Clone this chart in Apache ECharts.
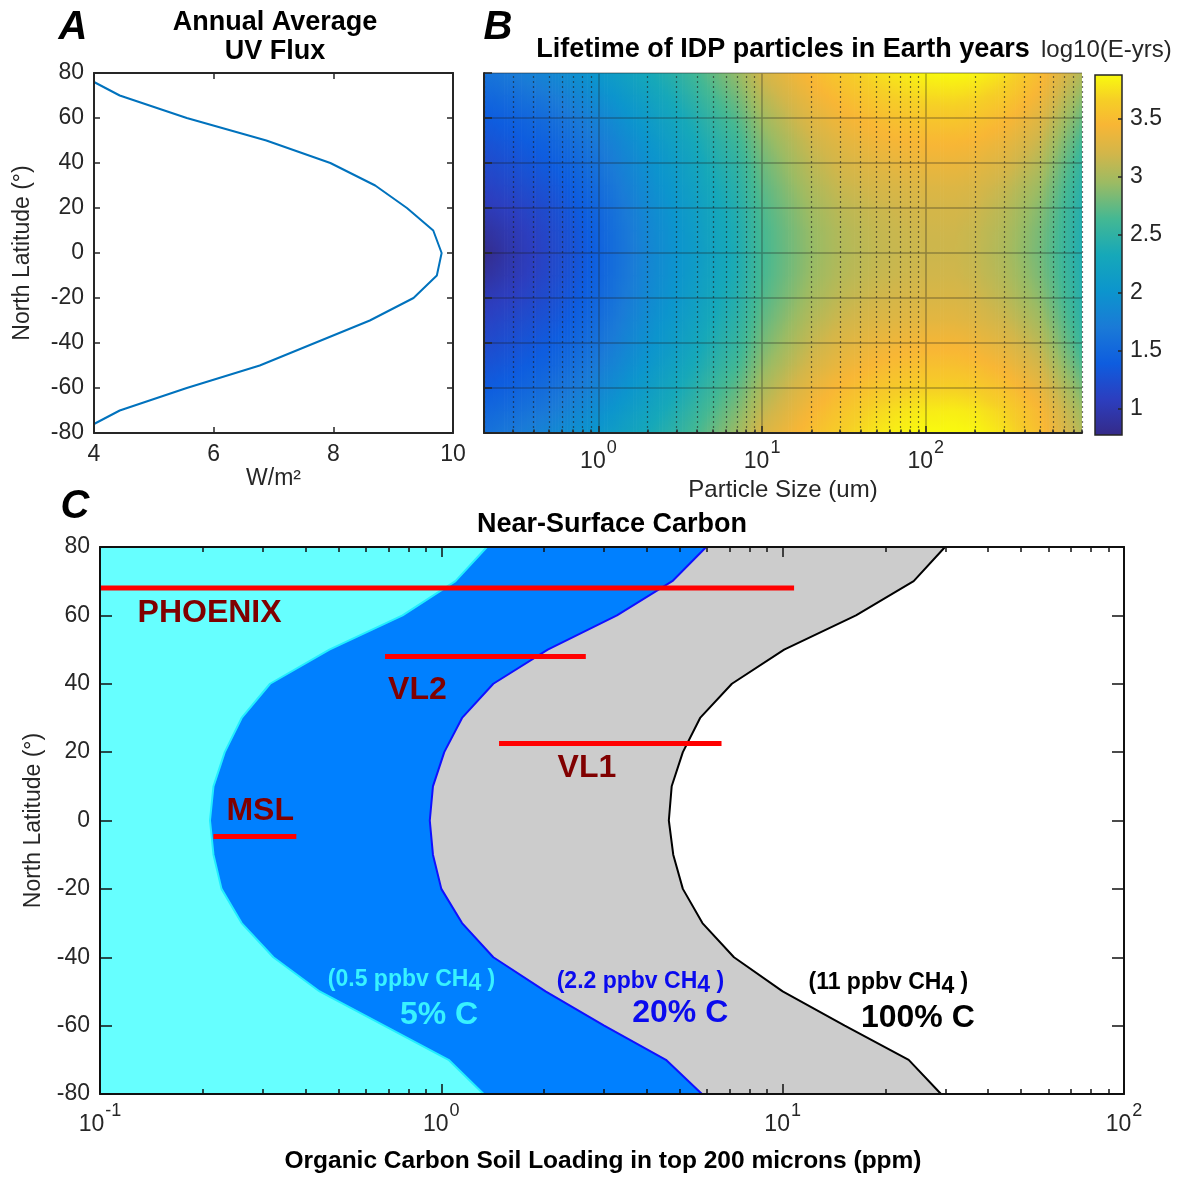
<!DOCTYPE html>
<html><head><meta charset="utf-8">
<script src="https://cdn.jsdelivr.net/npm/echarts@6/dist/echarts.min.js"></script>
<style>html,body{margin:0;padding:0;background:#fff}#c{width:1182px;height:1178px}</style>
</head><body><div id="c"></div>
<script>
// ---------------- DATA ----------------
// Panel A: annual average UV flux
const uvLat  = [76, 70, 60, 50, 40, 30, 20, 10, 0, -10, -20, -30, -40, -50, -60, -70, -76];
const uvFlux = [4.0, 4.43, 5.55, 6.88, 7.95, 8.7, 9.23, 9.67, 9.81, 9.73, 9.34, 8.61, 7.69, 6.77, 5.55, 4.43, 4.0];

// Panel B: log10 lifetime (Earth years) vs particle size (um) and latitude
const particleSizes = [0.2, 0.3, 0.5, 0.7, 1, 2, 3, 5, 7, 10, 20, 30, 50, 70, 100, 150, 200, 300, 500, 900];
const lifeLats = [80, 70, 60, 50, 40, 30, 20, 10, 0, -10, -20, -30, -40, -50, -60, -70, -80];
const lifeRows = [
  [1.62,1.72,1.85,1.95,2.05,2.32,2.48,2.75,2.92,3.20,3.48,3.60,3.74,3.80,3.86,3.87,3.85,3.75,3.50,3.05],
  [1.50,1.57,1.70,1.81,1.93,2.21,2.38,2.64,2.80,3.08,3.38,3.50,3.62,3.68,3.72,3.73,3.70,3.62,3.40,2.90],
  [1.38,1.44,1.56,1.68,1.81,2.11,2.28,2.53,2.69,2.96,3.28,3.40,3.50,3.55,3.58,3.59,3.56,3.48,3.28,2.76],
  [1.29,1.35,1.46,1.58,1.71,2.02,2.20,2.44,2.59,2.86,3.18,3.30,3.40,3.44,3.46,3.46,3.44,3.36,3.16,2.63],
  [1.20,1.27,1.38,1.49,1.63,1.96,2.13,2.38,2.51,2.78,3.10,3.22,3.30,3.34,3.36,3.36,3.33,3.25,3.05,2.53],
  [1.12,1.19,1.30,1.41,1.56,1.91,2.08,2.32,2.46,2.72,3.03,3.15,3.22,3.25,3.27,3.27,3.24,3.15,2.95,2.47],
  [1.03,1.10,1.23,1.35,1.50,1.87,2.04,2.27,2.42,2.67,2.97,3.09,3.16,3.19,3.21,3.21,3.18,3.08,2.87,2.43],
  [0.90,1.02,1.18,1.30,1.46,1.84,2.01,2.24,2.39,2.64,2.93,3.05,3.13,3.16,3.18,3.18,3.14,3.04,2.82,2.41],
  [0.80,0.98,1.16,1.28,1.44,1.83,2.00,2.22,2.38,2.63,2.92,3.04,3.12,3.15,3.17,3.17,3.13,3.02,2.80,2.40],
  [0.90,1.02,1.18,1.30,1.46,1.84,2.01,2.24,2.39,2.64,2.94,3.06,3.14,3.17,3.19,3.19,3.15,3.05,2.83,2.42],
  [1.03,1.10,1.23,1.35,1.50,1.87,2.04,2.28,2.43,2.68,2.99,3.11,3.19,3.22,3.24,3.24,3.20,3.10,2.89,2.45],
  [1.12,1.19,1.30,1.41,1.56,1.92,2.09,2.33,2.48,2.74,3.06,3.18,3.26,3.29,3.31,3.31,3.27,3.18,2.98,2.50],
  [1.20,1.27,1.38,1.49,1.63,1.97,2.14,2.40,2.54,2.81,3.14,3.27,3.36,3.40,3.42,3.42,3.38,3.29,3.09,2.57],
  [1.29,1.35,1.46,1.58,1.72,2.04,2.22,2.47,2.62,2.90,3.23,3.36,3.46,3.51,3.53,3.53,3.50,3.41,3.21,2.68],
  [1.38,1.44,1.57,1.69,1.82,2.13,2.31,2.57,2.73,3.01,3.34,3.47,3.58,3.63,3.66,3.66,3.63,3.54,3.34,2.82],
  [1.50,1.57,1.70,1.82,1.94,2.23,2.41,2.67,2.84,3.12,3.44,3.57,3.70,3.76,3.80,3.81,3.78,3.68,3.46,2.95],
  [1.60,1.70,1.84,1.95,2.05,2.33,2.50,2.77,2.95,3.24,3.52,3.65,3.78,3.84,3.88,3.88,3.86,3.76,3.52,3.05]
];
const lifeMin = 0.77, lifeMax = 3.88;
const cbarTicks = [1, 1.5, 2, 2.5, 3, 3.5];
// parula-like colormap: [fraction, colour]
const parulaStops = [
  [0.00, '#352A87'], [0.10, '#2C3EBF'], [0.20, '#0E5DDF'], [0.30, '#1A7AD7'],
  [0.40, '#0C95CD'], [0.50, '#16A8B9'], [0.60, '#44B893'], [0.70, '#9CBB63'],
  [0.78, '#D2B64A'], [0.86, '#F8B635'], [0.93, '#F6CF26'], [1.00, '#F9FB0E']
];

// Panel C: latitude boundaries of organic carbon loading (ppm)
const carbonLat = [80, 70, 60, 50, 40, 30, 20, 10, 0, -10, -20, -30, -40, -50, -60, -70, -80];
const carbon5   = [1.36, 1.1, 0.77, 0.47, 0.315, 0.26, 0.232, 0.215, 0.21, 0.215, 0.227, 0.26, 0.322, 0.44, 0.68, 1.05, 1.33];
const carbon20  = [5.97, 4.75, 3.27, 2.05, 1.42, 1.15, 1.02, 0.945, 0.925, 0.945, 1.0, 1.15, 1.42, 2.02, 3.0, 4.55, 5.8];
const carbon100 = [29.9, 24.2, 16.4, 10.1, 7.1, 5.73, 5.1, 4.73, 4.64, 4.78, 5.1, 5.82, 7.2, 10, 15.2, 23.4, 29.1];
const siteNames = ['PHOENIX', 'VL2', 'VL1', 'MSL'];
const siteLat   = [68, 48, 22.5, -4.7];
const siteFrom  = [0.1, 0.684, 1.476, 0.215];
const siteTo    = [10.8, 2.65, 6.62, 0.376];
const carbonXMin = 0.1, carbonXMax = 100;
const decadesC = [0.1, 1, 10, 100];
const decadesB = [1, 10, 100];

// ---------------- LAYOUT / STYLE ----------------
const FONT = '"Liberation Sans", Arial, Helvetica, sans-serif';
const AX = '#262626';
const siteLabelAnchor = [[0.2094, 60.6], [0.851, 38.2], [2.67, 15.3], [0.2946, 2.6]];
const notes = [
  {pre: '(0.5 ppbv CH', sub: '4', post: ' )', big: '5% C', color: '#38F2FF', at: [0.818, -46.6], bigAt: [0.985, -56.9]},
  {pre: '(2.2 ppbv CH', sub: '4', post: ' )', big: '20% C', color: '#0A0AEE', at: [3.83, -47.1], bigAt: [5.01, -56.3]},
  {pre: '(11 ppbv CH', sub: '4', post: ' )', big: '100% C', color: '#000000', at: [20.4, -47.5], bigAt: [24.9, -57.8]}
];

function minorTicks(lo, hi) {
  const out = [];
  for (let d = lo; d < hi; d *= 10) for (let k = 2; k <= 9; k++) out.push(+(d * k).toPrecision(6));
  return out;
}
const minorB = minorTicks(0.1, 1000).filter(v => v >= 0.2 && v <= 900);
const minorC = minorTicks(0.1, 100);

function hexToRgb(h) { return [parseInt(h.slice(1,3),16), parseInt(h.slice(3,5),16), parseInt(h.slice(5,7),16)]; }
const stopRgb = parulaStops.map(s => hexToRgb(s[1]));
function cmap(v) {
  let f = (v - lifeMin) / (lifeMax - lifeMin);
  f = Math.max(0, Math.min(1, f));
  let i = 0;
  while (i < parulaStops.length - 2 && f > parulaStops[i + 1][0]) i++;
  const t = (f - parulaStops[i][0]) / (parulaStops[i + 1][0] - parulaStops[i][0]);
  const a = stopRgb[i], b = stopRgb[i + 1];
  return 'rgb(' + Math.round(a[0] + (b[0]-a[0])*t) + ',' + Math.round(a[1] + (b[1]-a[1])*t) + ',' + Math.round(a[2] + (b[2]-a[2])*t) + ')';
}

const heatCells = [];
for (let j = 0; j < lifeLats.length - 1; j++) {
  for (let i = 0; i < particleSizes.length - 1; i++) {
    heatCells.push([particleSizes[i], particleSizes[i+1], lifeLats[j], lifeLats[j+1],
      lifeRows[j][i], lifeRows[j][i+1], lifeRows[j+1][i], lifeRows[j+1][i+1]]);
  }
}

function renderHeat(params, api) {
  const sL = api.value(0), sR = api.value(1), la = api.value(2), lb = api.value(3);
  const vTL = api.value(4), vTR = api.value(5), vBL = api.value(6), vBR = api.value(7);
  const p0 = api.coord([sL, la]), p1 = api.coord([sR, lb]);
  const w = p1[0] - p0[0], h = p1[1] - p0[1];
  const n = Math.max(1, Math.ceil(w / 3));
  const kids = [];
  for (let k = 0; k < n; k++) {
    const f = (k + 0.5) / n;
    const vt = vTL + (vTR - vTL) * f, vb = vBL + (vBR - vBL) * f;
    const stops = [];
    for (let q = 0; q <= 4; q++) stops.push({offset: q / 4, color: cmap(vt + (vb - vt) * q / 4)});
    kids.push({type: 'rect', shape: {x: p0[0] + w * k / n, y: p0[1], width: w / n + 0.7, height: h + 0.7},
      style: {fill: {type: 'linear', x: 0, y: 0, x2: 0, y2: 1, colorStops: stops}}});
  }
  return {type: 'group', children: kids};
}

function renderCbar(params, api) {
  const p0 = api.coord([0, lifeMax]), p1 = api.coord([1, lifeMin]);
  const stops = parulaStops.map(s => ({offset: 1 - s[0], color: s[1]})).reverse();
  return {type: 'rect', shape: {x: p0[0], y: p0[1], width: p1[0] - p0[0], height: p1[1] - p0[1]},
    style: {fill: {type: 'linear', x: 0, y: 0, x2: 0, y2: 1, colorStops: stops}, stroke: AX, lineWidth: 1.5}};
}

function renderCFill(params, api) {
  function poly(xs, color) {
    const pts = carbonLat.map((lat, i) => api.coord([xs[i], lat]));
    pts.push(api.coord([carbonXMin, carbonLat[carbonLat.length - 1]]));
    pts.push(api.coord([carbonXMin, carbonLat[0]]));
    return {type: 'polygon', shape: {points: pts}, style: {fill: color}};
  }
  return {type: 'group', children: [poly(carbon100, '#CCCCCC'), poly(carbon20, '#0080FF'), poly(carbon5, '#66FFFF')]};
}

// superscript tick labels "10^n": base pushed down by top padding, exponent pushed up by bottom padding
const expRich = {
  b: {fontFamily: FONT, fontSize: 23, color: AX, lineHeight: 23, padding: [12, 0, 0, 0]},
  e: {fontFamily: FONT, fontSize: 18, color: AX, lineHeight: 18, padding: [0, 0, 14, 1]}
};
function expFmt(v) { return '{b|10}{e|' + Math.round(Math.log10(v)) + '}'; }

const tickStyle = {color: AX, width: 1.5};
function valAxis(o) {
  return Object.assign({
    type: 'value', axisLine: {show: true, onZero: false, lineStyle: {color: AX, width: 2}},
    axisTick: {show: true, inside: true, length: 6, lineStyle: tickStyle},
    axisLabel: {show: true, fontFamily: FONT, fontSize: 23, color: AX, margin: 10},
    splitLine: {show: false}, z: 5
  }, o);
}
function logAxis(o) {
  return Object.assign({
    type: 'log', logBase: 10, axisLine: {show: false, onZero: false},
    axisTick: {show: false}, axisLabel: {show: false}, splitLine: {show: false}, z: 5
  }, o);
}

const xAxes = [
  // 0,1 panel A
  valAxis({gridIndex: 0, min: 4, max: 10, interval: 2, position: 'bottom',
    name: 'W/m²', nameLocation: 'middle', nameGap: 34, nameTextStyle: {fontFamily: FONT, fontSize: 23, color: AX}}),
  valAxis({gridIndex: 0, min: 4, max: 10, interval: 2, position: 'top', axisLabel: {show: false}}),
  // 2 panel B main
  logAxis({gridIndex: 1, min: 0.2, max: 900, position: 'bottom', z: 6,
    axisLine: {show: true, onZero: false, lineStyle: {color: AX, width: 2}},
    axisTick: {show: true, inside: true, length: 7, customValues: decadesB, lineStyle: tickStyle},
    axisLabel: {show: true, customValues: decadesB, formatter: expFmt, rich: expRich, margin: 11},
    name: 'Particle Size (um)', nameLocation: 'middle', nameGap: 45, nameTextStyle: {fontFamily: FONT, fontSize: 24, color: AX}}),
  // 3 panel B minor ticks
  logAxis({gridIndex: 1, min: 0.2, max: 900, position: 'bottom', z: 6,
    axisTick: {show: true, inside: true, length: 3.5, customValues: minorB, lineStyle: tickStyle}}),
  // 4 panel B major vertical grid
  logAxis({gridIndex: 1, min: 0.2, max: 900, position: 'bottom', z: 4,
    axisTick: {show: true, inside: true, length: 360, customValues: decadesB, lineStyle: {color: 'rgba(30,30,30,0.35)', width: 1.5}}}),
  // 5 panel B minor dotted grid
  logAxis({gridIndex: 1, min: 0.2, max: 900, position: 'bottom', z: 4,
    axisTick: {show: true, inside: true, length: 360, customValues: minorB, lineStyle: {color: 'rgba(30,30,30,0.6)', width: 1.2, type: [2, 3]}}}),
  // 6 panel C bottom main
  logAxis({gridIndex: 3, min: carbonXMin, max: carbonXMax, position: 'bottom',
    axisLine: {show: true, onZero: false, lineStyle: {color: '#111', width: 2}},
    axisTick: {show: true, inside: true, length: 10, customValues: decadesC, lineStyle: {color: '#111', width: 1.5}},
    axisLabel: {show: true, customValues: decadesC, formatter: expFmt, rich: expRich, margin: 13},
    name: 'Organic Carbon Soil Loading in top 200 microns (ppm)', nameLocation: 'middle', nameGap: 55,
    nameTextStyle: {fontFamily: FONT, fontSize: 24.5, fontWeight: 'bold', color: '#000', padding: [0, 18, 0, 0]}}),
  // 7 panel C bottom minor
  logAxis({gridIndex: 3, min: carbonXMin, max: carbonXMax, position: 'bottom',
    axisTick: {show: true, inside: true, length: 5, customValues: minorC, lineStyle: {color: '#111', width: 1.5}}}),
  // 8 panel C top main
  logAxis({gridIndex: 3, min: carbonXMin, max: carbonXMax, position: 'top',
    axisLine: {show: true, onZero: false, lineStyle: {color: '#111', width: 2}},
    axisTick: {show: true, inside: true, length: 10, customValues: decadesC, lineStyle: {color: '#111', width: 1.5}}}),
  // 9 panel C top minor
  logAxis({gridIndex: 3, min: carbonXMin, max: carbonXMax, position: 'top',
    axisTick: {show: true, inside: true, length: 5, customValues: minorC, lineStyle: {color: '#111', width: 1.5}}}),
  // 10 colorbar x
  {type: 'value', gridIndex: 2, min: 0, max: 1, show: false}
];

const yAxes = [
  // 0,1 panel A
  valAxis({gridIndex: 0, min: -80, max: 80, interval: 20, position: 'left',
    name: 'North Latitude (°)', nameLocation: 'middle', nameRotate: 90, nameGap: 60,
    nameTextStyle: {fontFamily: FONT, fontSize: 23, color: AX}}),
  valAxis({gridIndex: 0, min: -80, max: 80, interval: 20, position: 'right', axisLabel: {show: false}}),
  // 2 panel B left
  valAxis({gridIndex: 1, min: -80, max: 80, interval: 20, position: 'left', z: 6,
    axisTick: {show: true, inside: true, length: 8, lineStyle: tickStyle}, axisLabel: {show: false}}),
  // 3 panel B horizontal grid
  {type: 'value', gridIndex: 1, min: -80, max: 80, interval: 20, position: 'left', z: 4,
    axisLine: {show: false, onZero: false}, axisLabel: {show: false}, splitLine: {show: false},
    axisTick: {show: true, inside: true, length: 598, lineStyle: {color: 'rgba(30,30,30,0.35)', width: 1.5}}},
  // 4 colorbar
  {type: 'value', gridIndex: 2, min: lifeMin, max: lifeMax, position: 'right', z: 6,
    axisLine: {show: false, onZero: false}, splitLine: {show: false},
    axisTick: {show: true, inside: true, length: 4, customValues: cbarTicks, lineStyle: tickStyle},
    axisLabel: {show: true, customValues: cbarTicks, fontFamily: FONT, fontSize: 23, color: AX, margin: 8, formatter: v => String(v)}},
  // 5,6 panel C
  valAxis({gridIndex: 3, min: -80, max: 80, interval: 20, position: 'left',
    axisLine: {show: true, onZero: false, lineStyle: {color: '#111', width: 2}},
    axisTick: {show: true, inside: true, length: 12, lineStyle: {color: '#111', width: 1.5}},
    name: 'North Latitude (°)', nameLocation: 'middle', nameRotate: 90, nameGap: 55,
    nameTextStyle: {fontFamily: FONT, fontSize: 23, color: AX}}),
  valAxis({gridIndex: 3, min: -80, max: 80, interval: 20, position: 'right',
    axisLine: {show: true, onZero: false, lineStyle: {color: '#111', width: 2}},
    axisTick: {show: true, inside: true, length: 12, lineStyle: {color: '#111', width: 1.5}},
    axisLabel: {show: false}})
];

const series = [
  {type: 'line', name: 'UV flux', xAxisIndex: 0, yAxisIndex: 0, showSymbol: false, symbol: 'none',
    data: uvFlux.map((u, i) => [u, uvLat[i]]), lineStyle: {color: '#0072BD', width: 2}, z: 3},
  {type: 'custom', name: 'lifetime', xAxisIndex: 2, yAxisIndex: 2, renderItem: renderHeat, data: heatCells,
    encode: {x: [0, 1], y: [2, 3]}, clip: true, z: 1, silent: true},
  {type: 'custom', name: 'colorbar', xAxisIndex: 10, yAxisIndex: 4, renderItem: renderCbar,
    data: [[0.5, (lifeMin + lifeMax) / 2]], z: 1, silent: true},
  {type: 'custom', name: 'carbon fill', xAxisIndex: 6, yAxisIndex: 5, renderItem: renderCFill,
    data: [[1, 0]], clip: true, z: 1, silent: true},
  {type: 'line', name: '5% C', xAxisIndex: 6, yAxisIndex: 5, symbol: 'none',
    data: carbon5.map((x, i) => [x, carbonLat[i]]), lineStyle: {color: '#22EEFF', width: 2}, z: 2},
  {type: 'line', name: '20% C', xAxisIndex: 6, yAxisIndex: 5, symbol: 'none',
    data: carbon20.map((x, i) => [x, carbonLat[i]]), lineStyle: {color: '#1010FF', width: 2}, z: 2},
  {type: 'line', name: '100% C', xAxisIndex: 6, yAxisIndex: 5, symbol: 'none',
    data: carbon100.map((x, i) => [x, carbonLat[i]]), lineStyle: {color: '#000', width: 2}, z: 2}
];
siteNames.forEach((nm, k) => {
  series.push({type: 'line', name: nm, xAxisIndex: 6, yAxisIndex: 5, symbol: 'none', clip: false,
    data: [[siteFrom[k], siteLat[k]], [siteTo[k], siteLat[k]]], lineStyle: {color: '#FF0000', width: 5}, z: 4});
});
series.push({type: 'scatter', name: 'site labels', xAxisIndex: 6, yAxisIndex: 5, symbolSize: 1,
  itemStyle: {color: 'rgba(0,0,0,0)', opacity: 1}, z: 6, silent: true,
  data: siteNames.map((nm, k) => ({name: nm, value: siteLabelAnchor[k]})),
  label: {show: true, position: 'inside', formatter: p => p.name, fontFamily: FONT, fontSize: 32, fontWeight: 'bold',
    color: '#800000', opacity: 1, textBorderWidth: 0}});
series.push({type: 'scatter', name: 'notes', xAxisIndex: 6, yAxisIndex: 5, symbolSize: 1,
  itemStyle: {color: 'rgba(0,0,0,0)', opacity: 1}, z: 6, silent: true,
  data: notes.flatMap(n => [
    {value: n.at, label: {show: true, position: 'inside', opacity: 1, textBorderWidth: 0,
      formatter: '{a|' + n.pre + '}{s|' + n.sub + '}{a|' + n.post + '}',
      rich: {a: {fontFamily: FONT, fontSize: 23, fontWeight: 'bold', color: n.color, lineHeight: 23},
             s: {fontFamily: FONT, fontSize: 23, fontWeight: 'bold', color: n.color, lineHeight: 23, padding: [8, 0, 0, 0]}}}},
    {value: n.bigAt, label: {show: true, position: 'inside', formatter: n.big, opacity: 1, textBorderWidth: 0,
      fontFamily: FONT, fontSize: 32, fontWeight: 'bold', color: n.color}}
  ])});

function txt(text, x, y, size, opts) {
  return {type: 'text', x: x, y: y, z: 10, style: Object.assign({text: text, fill: '#000',
    font: (opts && opts.font) || ('bold ' + size + 'px ' + FONT), textAlign: 'center', textVerticalAlign: 'middle'}, opts && opts.style)};
}

const option = {
  animation: false,
  backgroundColor: '#fff',
  grid: [
    {left: 94, top: 73, width: 359, height: 360, outerBoundsMode: 'none'},
    {left: 484, top: 73, width: 598, height: 360, outerBoundsMode: 'none'},
    {left: 1095, top: 75, width: 27, height: 360, outerBoundsMode: 'none'},
    {left: 100, top: 547, width: 1024, height: 547, outerBoundsMode: 'none'}
  ],
  xAxis: xAxes,
  yAxis: yAxes,
  series: series,
  graphic: [
    txt('A', 73, 28, 40, {font: 'italic bold 40px ' + FONT}),
    txt('B', 498, 28, 40, {font: 'italic bold 40px ' + FONT}),
    txt('C', 75, 507, 40, {font: 'italic bold 40px ' + FONT}),
    txt('Annual Average', 275, 23, 27),
    txt('UV Flux', 275, 52, 27),
    txt('Lifetime of IDP particles in Earth years', 783, 50, 27),
    txt('log10(E-yrs)', 1041, 50, 24, {font: '24px ' + FONT, style: {textAlign: 'left', fill: AX}}),
    txt('Near-Surface Carbon', 612, 525, 27)
  ]
};

const chart = echarts.init(document.getElementById('c'), null, {renderer: 'canvas'});
chart.setOption(option);
</script></body></html>
